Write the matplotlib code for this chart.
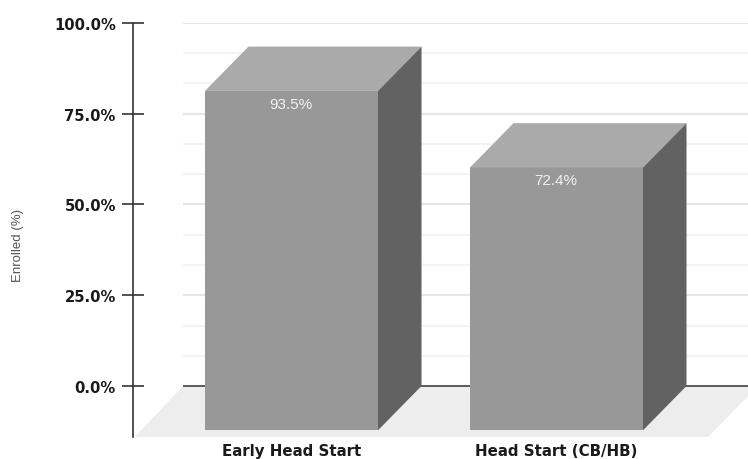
import matplotlib
matplotlib.use('Agg')
import matplotlib.pyplot as plt
from matplotlib.patches import Polygon

categories = ['Early Head Start', 'Head Start (CB/HB)']
enrolled = [93.5, 72.4]
value_labels = ['93.5%', '72.4%']
major_ticks = [0, 25, 50, 75, 100]
tick_labels = ['0.0%', '25.0%', '50.0%', '75.0%', '100.0%']
minor_grid = [100 / 12 * i for i in range(1, 13) if i % 3 != 0]

plt.rcParams['font.family'] = ['Liberation Sans', 'DejaVu Sans']

W, H = 748, 460
fig = plt.figure(figsize=(W / 100, H / 100), dpi=100)
# x axis runs in pixels, y axis runs in percent on the back wall of the 3D box
ax = fig.add_axes([132.5 / W, (H - 438) / H, (W - 132.5) / W, (438 - 24) / H])
px_per_pct = 3.63
ymin = -(438 - 387) / px_per_pct
ax.set_xlim(132.5, W)
ax.set_ylim(ymin, 100)

depth_x = 43.5
depth_y = 44.3 / px_per_pct
bar_w = 173
bar_x = [291.5, 556.5]

# floor
ax.add_patch(Polygon([(183, 0), (183 + 575, 0), (708, ymin), (135, ymin)],
                     fc='#ededed', ec='none', zorder=1))

# wall grid lines
ax.hlines(minor_grid, 183, W, color='#f3f3f3', lw=1.5, zorder=1)
ax.hlines([25, 50, 75, 100], 183, W, color='#e6e6e6', lw=1.5, zorder=1)
ax.hlines(0, 183, W, color='#5a5a5a', lw=1.4, zorder=1.5)

# bars: front face, then top and side
ax.bar(bar_x, enrolled, width=bar_w, bottom=-depth_y, color='#989898', zorder=3)
for x, v, lab in zip(bar_x, enrolled, value_labels):
    left = x - bar_w / 2
    right = x + bar_w / 2
    front_top = v - depth_y
    ax.add_patch(Polygon([(left, front_top), (right, front_top),
                          (right + depth_x, v), (left + depth_x, v)],
                         fc='#aaaaaa', ec='none', zorder=3))
    ax.add_patch(Polygon([(right, -depth_y), (right + depth_x, 0),
                          (right + depth_x, v), (right, front_top)],
                         fc='#626262', ec='none', zorder=3))
    ax.text(x - 1, front_top - 3.5, lab, color='#f2f2f2', fontsize=11,
            ha='center', va='center', zorder=4)

for s in ['top', 'right', 'bottom']:
    ax.spines[s].set_visible(False)
ax.spines['left'].set_color('#333333')
ax.spines['left'].set_linewidth(1.2)

ax.set_yticks(major_ticks)
ax.set_yticklabels(tick_labels, fontweight='bold', fontsize=10.6,
                   family='DejaVu Sans', color='#1a1a1a')
ax.tick_params(axis='y', direction='inout', length=16, width=1.2, color='#333333', pad=4)
ax.set_xticks(bar_x)
ax.set_xticklabels(categories, fontweight='bold', fontsize=10.8,
                   family='DejaVu Sans', color='#1a1a1a')
ax.tick_params(axis='x', length=0, pad=4)

fig.text(18.5 / W, 1 - 246 / H, 'Enrolled (%)', rotation=90, color='#555555',
         fontsize=9.5, ha='center', va='center')

fig.savefig('out.png', dpi=100)
